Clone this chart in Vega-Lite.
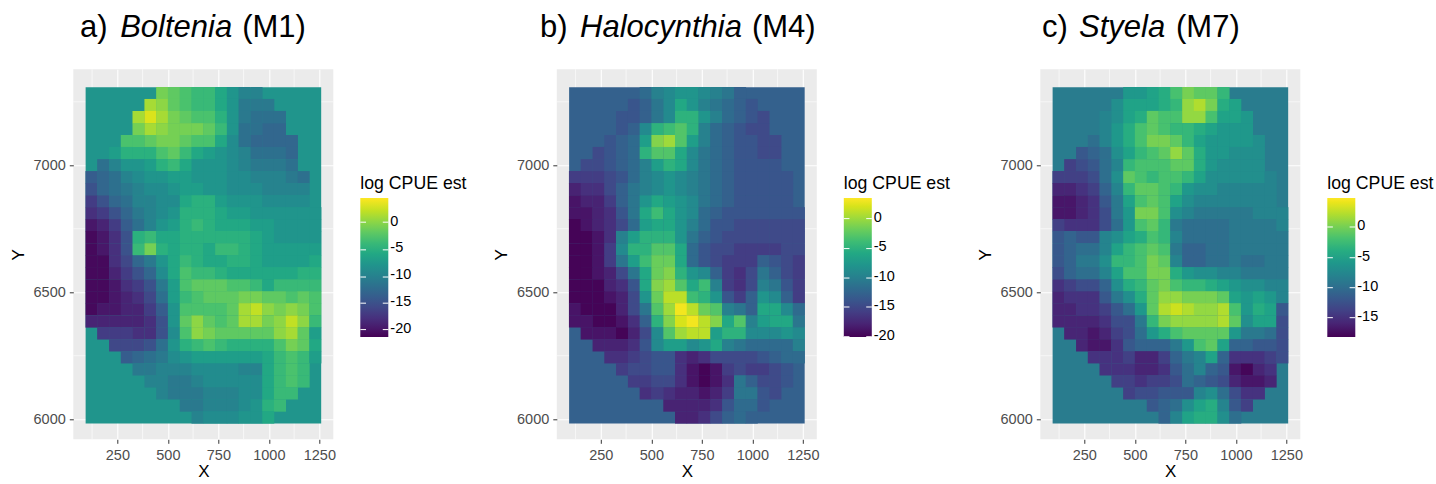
{"$schema":"https://vega.github.io/schema/vega-lite/v6.json","padding":{"left":8.3,"top":11.3,"right":0,"bottom":0},"background":"white","bounds":"flush","spacing":223.5,"resolve":{"scale":{"color":"independent"},"legend":{"color":"independent"}},"config":{"font":"Liberation Sans","view":{"fill":"#EBEBEB","stroke":null},"axis":{"domain":false,"grid":true,"gridColor":"white","gridWidth":1.1,"tickColor":"#333333","tickSize":4,"labelColor":"#4D4D4D","labelFontSize":14.5,"labelFont":"Liberation Sans","titleFont":"Liberation Sans","titleFontSize":17,"titleFontWeight":"normal","titleColor":"black"},"legend":{"orient":"none","legendX":287,"legendY":106,"titleFont":"Liberation Sans","titleFontSize":17.7,"titleFontWeight":"normal","titleColor":"black","titlePadding":5,"labelFont":"Liberation Sans","labelFontSize":14.5,"labelColor":"black","labelOffset":14,"gradientLength":139,"gradientThickness":28,"gradientStrokeWidth":0}},"datasets":{"gx":[{"v":125},{"v":375},{"v":625},{"v":875},{"v":1125}],"gy":[{"v":6250},{"v":6750},{"v":7250}],
"ta":[{"t":"a)","x":65,"y":7505},{"t":"(M1)","x":868,"y":7505}],"tai":[{"t":"Boltenia","x":264,"y":7505}],
"tb":[{"t":"b)","x":-51,"y":7505},{"t":"(M4)","x":998,"y":7505}],"tbi":[{"t":"Halocynthia","x":147,"y":7505}],
"tc":[{"t":"c)","x":40,"y":7505},{"t":"(M7)","x":704,"y":7505}],"tci":[{"t":"Styela","x":224,"y":7505}],
"bga":[{"x":93,"x2":1259,"y":5983,"y2":7307,"v":-8}],"bgb":[{"x":93,"x2":1259,"y":5983,"y2":7307,"v":-13}],"bgc":[{"x":93,"x2":1259,"y":5983,"y2":7307,"v":-8.8}],
"lt":[{"x":-5727,"x2":-5699,"y":6776},{"x":-5616,"x2":-5588,"y":6776},{"x":-5727,"x2":-5699,"y":6667},{"x":-5616,"x2":-5588,"y":6667},{"x":-5727,"x2":-5699,"y":6560},{"x":-5616,"x2":-5588,"y":6560},{"x":-5727,"x2":-5699,"y":6457},{"x":-5616,"x2":-5588,"y":6457},{"x":-5727,"x2":-5699,"y":6353},{"x":-5616,"x2":-5588,"y":6353},{"x":-3334,"x2":-3306,"y":6790},{"x":-3223,"x2":-3195,"y":6790},{"x":-3334,"x2":-3306,"y":6672},{"x":-3223,"x2":-3195,"y":6672},{"x":-3334,"x2":-3306,"y":6556},{"x":-3223,"x2":-3195,"y":6556},{"x":-3334,"x2":-3306,"y":6442},{"x":-3223,"x2":-3195,"y":6442},{"x":-3334,"x2":-3306,"y":6325},{"x":-3223,"x2":-3195,"y":6325},{"x":-941,"x2":-913,"y":6757},{"x":-830,"x2":-802,"y":6757},{"x":-941,"x2":-913,"y":6636},{"x":-830,"x2":-802,"y":6636},{"x":-941,"x2":-913,"y":6518},{"x":-830,"x2":-802,"y":6518},{"x":-941,"x2":-913,"y":6400},{"x":-830,"x2":-802,"y":6400}],
"a":[
{"x":472,"y":7284,"v":-1},{"x":530,"y":7284,"v":-2},{"x":589,"y":7284,"v":-3},{"x":647,"y":7284,"v":-4},{"x":705,"y":7284,"v":-4},{"x":764,"y":7284,"v":-6},{"x":822,"y":7284,"v":-8},{"x":880,"y":7284,"v":-10},{"x":939,"y":7284,"v":-10},
{"x":414,"y":7237,"v":1},{"x":472,"y":7237,"v":0},{"x":530,"y":7237,"v":-2},{"x":589,"y":7237,"v":-3},{"x":647,"y":7237,"v":-4},{"x":705,"y":7237,"v":-4},{"x":764,"y":7237,"v":-6},{"x":822,"y":7237,"v":-8},{"x":880,"y":7237,"v":-11},{"x":939,"y":7237,"v":-11},{"x":997,"y":7237,"v":-11},
{"x":355,"y":7190,"v":1},{"x":414,"y":7190,"v":3},{"x":472,"y":7190,"v":1},{"x":530,"y":7190,"v":-1},{"x":589,"y":7190,"v":-2},{"x":647,"y":7190,"v":-3},{"x":705,"y":7190,"v":-3},{"x":764,"y":7190,"v":-5},{"x":822,"y":7190,"v":-8},{"x":880,"y":7190,"v":-11},{"x":939,"y":7190,"v":-12},{"x":997,"y":7190,"v":-12},{"x":1055,"y":7190,"v":-12},
{"x":355,"y":7142,"v":-1},{"x":414,"y":7142,"v":1},{"x":472,"y":7142,"v":0},{"x":530,"y":7142,"v":-1},{"x":589,"y":7142,"v":-1},{"x":647,"y":7142,"v":-1},{"x":705,"y":7142,"v":-2},{"x":764,"y":7142,"v":-4},{"x":822,"y":7142,"v":-8},{"x":880,"y":7142,"v":-12},{"x":939,"y":7142,"v":-12},{"x":997,"y":7142,"v":-13},{"x":1055,"y":7142,"v":-13},
{"x":297,"y":7095,"v":-3},{"x":355,"y":7095,"v":-3},{"x":414,"y":7095,"v":-2},{"x":472,"y":7095,"v":-1},{"x":530,"y":7095,"v":-1},{"x":589,"y":7095,"v":-2},{"x":647,"y":7095,"v":-3},{"x":705,"y":7095,"v":-3},{"x":764,"y":7095,"v":-6},{"x":822,"y":7095,"v":-9},{"x":880,"y":7095,"v":-12},{"x":939,"y":7095,"v":-13},{"x":997,"y":7095,"v":-13},{"x":1055,"y":7095,"v":-13},{"x":1114,"y":7095,"v":-13},
{"x":239,"y":7048,"v":-7},{"x":297,"y":7048,"v":-5},{"x":355,"y":7048,"v":-5},{"x":414,"y":7048,"v":-5},{"x":472,"y":7048,"v":-3},{"x":530,"y":7048,"v":-2},{"x":589,"y":7048,"v":-4},{"x":647,"y":7048,"v":-6},{"x":705,"y":7048,"v":-7},{"x":764,"y":7048,"v":-8},{"x":822,"y":7048,"v":-9},{"x":880,"y":7048,"v":-10},{"x":939,"y":7048,"v":-12},{"x":997,"y":7048,"v":-12},{"x":1055,"y":7048,"v":-12},{"x":1114,"y":7048,"v":-13},
{"x":180,"y":7000,"v":-12},{"x":239,"y":7000,"v":-10},{"x":297,"y":7000,"v":-8},{"x":355,"y":7000,"v":-8},{"x":414,"y":7000,"v":-7},{"x":472,"y":7000,"v":-5},{"x":530,"y":7000,"v":-4},{"x":589,"y":7000,"v":-6},{"x":647,"y":7000,"v":-8},{"x":705,"y":7000,"v":-8},{"x":764,"y":7000,"v":-8},{"x":822,"y":7000,"v":-9},{"x":880,"y":7000,"v":-10},{"x":939,"y":7000,"v":-11},{"x":997,"y":7000,"v":-11},{"x":1055,"y":7000,"v":-11},{"x":1114,"y":7000,"v":-12},
{"x":122,"y":6953,"v":-14},{"x":180,"y":6953,"v":-13},{"x":239,"y":6953,"v":-12},{"x":297,"y":6953,"v":-10},{"x":355,"y":6953,"v":-9},{"x":414,"y":6953,"v":-8},{"x":472,"y":6953,"v":-8},{"x":530,"y":6953,"v":-7},{"x":589,"y":6953,"v":-7},{"x":647,"y":6953,"v":-8},{"x":705,"y":6953,"v":-8},{"x":764,"y":6953,"v":-8},{"x":822,"y":6953,"v":-9},{"x":880,"y":6953,"v":-9},{"x":939,"y":6953,"v":-10},{"x":997,"y":6953,"v":-10},{"x":1055,"y":6953,"v":-10},{"x":1114,"y":6953,"v":-11},{"x":1172,"y":6953,"v":-12},
{"x":122,"y":6906,"v":-15},{"x":180,"y":6906,"v":-13},{"x":239,"y":6906,"v":-12},{"x":297,"y":6906,"v":-11},{"x":355,"y":6906,"v":-10},{"x":414,"y":6906,"v":-9},{"x":472,"y":6906,"v":-9},{"x":530,"y":6906,"v":-8},{"x":589,"y":6906,"v":-7},{"x":647,"y":6906,"v":-7},{"x":705,"y":6906,"v":-8},{"x":764,"y":6906,"v":-8},{"x":822,"y":6906,"v":-9},{"x":880,"y":6906,"v":-9},{"x":939,"y":6906,"v":-9},{"x":997,"y":6906,"v":-10},{"x":1055,"y":6906,"v":-10},{"x":1114,"y":6906,"v":-10},{"x":1172,"y":6906,"v":-10},
{"x":122,"y":6858,"v":-17},{"x":180,"y":6858,"v":-15},{"x":239,"y":6858,"v":-13},{"x":297,"y":6858,"v":-12},{"x":355,"y":6858,"v":-10},{"x":414,"y":6858,"v":-10},{"x":472,"y":6858,"v":-9},{"x":530,"y":6858,"v":-9},{"x":589,"y":6858,"v":-6},{"x":647,"y":6858,"v":-5},{"x":705,"y":6858,"v":-5},{"x":764,"y":6858,"v":-7},{"x":822,"y":6858,"v":-8},{"x":880,"y":6858,"v":-8},{"x":939,"y":6858,"v":-8},{"x":997,"y":6858,"v":-9},{"x":1055,"y":6858,"v":-9},{"x":1114,"y":6858,"v":-9},{"x":1172,"y":6858,"v":-9},
{"x":122,"y":6811,"v":-18},{"x":180,"y":6811,"v":-17},{"x":239,"y":6811,"v":-15},{"x":297,"y":6811,"v":-13},{"x":355,"y":6811,"v":-11},{"x":414,"y":6811,"v":-10},{"x":472,"y":6811,"v":-9},{"x":530,"y":6811,"v":-8},{"x":589,"y":6811,"v":-5},{"x":647,"y":6811,"v":-5},{"x":705,"y":6811,"v":-5},{"x":764,"y":6811,"v":-6},{"x":822,"y":6811,"v":-7},{"x":880,"y":6811,"v":-7},{"x":939,"y":6811,"v":-8},{"x":997,"y":6811,"v":-8},{"x":1055,"y":6811,"v":-8},{"x":1114,"y":6811,"v":-8},{"x":1172,"y":6811,"v":-8},{"x":1230,"y":6811,"v":-8},
{"x":122,"y":6764,"v":-20},{"x":180,"y":6764,"v":-19},{"x":239,"y":6764,"v":-17},{"x":297,"y":6764,"v":-14},{"x":355,"y":6764,"v":-12},{"x":414,"y":6764,"v":-10},{"x":472,"y":6764,"v":-8},{"x":530,"y":6764,"v":-7},{"x":589,"y":6764,"v":-5},{"x":647,"y":6764,"v":-4},{"x":705,"y":6764,"v":-5},{"x":764,"y":6764,"v":-6},{"x":822,"y":6764,"v":-6},{"x":880,"y":6764,"v":-6},{"x":939,"y":6764,"v":-7},{"x":997,"y":6764,"v":-7},{"x":1055,"y":6764,"v":-8},{"x":1114,"y":6764,"v":-8},{"x":1172,"y":6764,"v":-8},{"x":1230,"y":6764,"v":-8},
{"x":122,"y":6717,"v":-21},{"x":180,"y":6717,"v":-20},{"x":239,"y":6717,"v":-18},{"x":297,"y":6717,"v":-15},{"x":355,"y":6717,"v":-5},{"x":414,"y":6717,"v":-4},{"x":472,"y":6717,"v":-6},{"x":530,"y":6717,"v":-6},{"x":589,"y":6717,"v":-5},{"x":647,"y":6717,"v":-5},{"x":705,"y":6717,"v":-5},{"x":764,"y":6717,"v":-5},{"x":822,"y":6717,"v":-5},{"x":880,"y":6717,"v":-5},{"x":939,"y":6717,"v":-6},{"x":997,"y":6717,"v":-7},{"x":1055,"y":6717,"v":-8},{"x":1114,"y":6717,"v":-8},{"x":1172,"y":6717,"v":-8},{"x":1230,"y":6717,"v":-8},
{"x":122,"y":6669,"v":-21},{"x":180,"y":6669,"v":-20},{"x":239,"y":6669,"v":-18},{"x":297,"y":6669,"v":-15},{"x":355,"y":6669,"v":-4},{"x":414,"y":6669,"v":-1},{"x":472,"y":6669,"v":-5},{"x":530,"y":6669,"v":-6},{"x":589,"y":6669,"v":-5},{"x":647,"y":6669,"v":-5},{"x":705,"y":6669,"v":-6},{"x":764,"y":6669,"v":-4},{"x":822,"y":6669,"v":-4},{"x":880,"y":6669,"v":-5},{"x":939,"y":6669,"v":-6},{"x":997,"y":6669,"v":-7},{"x":1055,"y":6669,"v":-7},{"x":1114,"y":6669,"v":-7},{"x":1172,"y":6669,"v":-7},{"x":1230,"y":6669,"v":-7},
{"x":122,"y":6622,"v":-21},{"x":180,"y":6622,"v":-21},{"x":239,"y":6622,"v":-18},{"x":297,"y":6622,"v":-16},{"x":355,"y":6622,"v":-13},{"x":414,"y":6622,"v":-11},{"x":472,"y":6622,"v":-8},{"x":530,"y":6622,"v":-6},{"x":589,"y":6622,"v":-4},{"x":647,"y":6622,"v":-5},{"x":705,"y":6622,"v":-6},{"x":764,"y":6622,"v":-6},{"x":822,"y":6622,"v":-5},{"x":880,"y":6622,"v":-5},{"x":939,"y":6622,"v":-6},{"x":997,"y":6622,"v":-7},{"x":1055,"y":6622,"v":-7},{"x":1114,"y":6622,"v":-7},{"x":1172,"y":6622,"v":-7},{"x":1230,"y":6622,"v":-6},
{"x":122,"y":6575,"v":-21},{"x":180,"y":6575,"v":-21},{"x":239,"y":6575,"v":-19},{"x":297,"y":6575,"v":-17},{"x":355,"y":6575,"v":-15},{"x":414,"y":6575,"v":-13},{"x":472,"y":6575,"v":-9},{"x":530,"y":6575,"v":-6},{"x":589,"y":6575,"v":-3},{"x":647,"y":6575,"v":-4},{"x":705,"y":6575,"v":-4},{"x":764,"y":6575,"v":-5},{"x":822,"y":6575,"v":-6},{"x":880,"y":6575,"v":-6},{"x":939,"y":6575,"v":-6},{"x":997,"y":6575,"v":-6},{"x":1055,"y":6575,"v":-6},{"x":1114,"y":6575,"v":-6},{"x":1172,"y":6575,"v":-5},{"x":1230,"y":6575,"v":-5},
{"x":122,"y":6527,"v":-21},{"x":180,"y":6527,"v":-21},{"x":239,"y":6527,"v":-20},{"x":297,"y":6527,"v":-18},{"x":355,"y":6527,"v":-17},{"x":414,"y":6527,"v":-15},{"x":472,"y":6527,"v":-11},{"x":530,"y":6527,"v":-7},{"x":589,"y":6527,"v":-3},{"x":647,"y":6527,"v":-2},{"x":705,"y":6527,"v":-2},{"x":764,"y":6527,"v":-2},{"x":822,"y":6527,"v":-3},{"x":880,"y":6527,"v":-3},{"x":939,"y":6527,"v":-4},{"x":997,"y":6527,"v":-6},{"x":1055,"y":6527,"v":-4},{"x":1114,"y":6527,"v":-4},{"x":1172,"y":6527,"v":-4},{"x":1230,"y":6527,"v":-4},
{"x":122,"y":6480,"v":-21},{"x":180,"y":6480,"v":-21},{"x":239,"y":6480,"v":-20},{"x":297,"y":6480,"v":-19},{"x":355,"y":6480,"v":-18},{"x":414,"y":6480,"v":-16},{"x":472,"y":6480,"v":-12},{"x":530,"y":6480,"v":-7},{"x":589,"y":6480,"v":-4},{"x":647,"y":6480,"v":-3},{"x":705,"y":6480,"v":-2},{"x":764,"y":6480,"v":-2},{"x":822,"y":6480,"v":-2},{"x":880,"y":6480,"v":-1},{"x":939,"y":6480,"v":-1},{"x":997,"y":6480,"v":-2},{"x":1055,"y":6480,"v":-2},{"x":1114,"y":6480,"v":-3},{"x":1172,"y":6480,"v":-2},{"x":1230,"y":6480,"v":-3},
{"x":122,"y":6433,"v":-21},{"x":180,"y":6433,"v":-20},{"x":239,"y":6433,"v":-20},{"x":297,"y":6433,"v":-19},{"x":355,"y":6433,"v":-19},{"x":414,"y":6433,"v":-17},{"x":472,"y":6433,"v":-14},{"x":530,"y":6433,"v":-8},{"x":589,"y":6433,"v":-3},{"x":647,"y":6433,"v":-3},{"x":705,"y":6433,"v":-3},{"x":764,"y":6433,"v":-3},{"x":822,"y":6433,"v":-2},{"x":880,"y":6433,"v":1},{"x":939,"y":6433,"v":2},{"x":997,"y":6433,"v":0},{"x":1055,"y":6433,"v":-1},{"x":1114,"y":6433,"v":0},{"x":1172,"y":6433,"v":-1},{"x":1230,"y":6433,"v":-3},
{"x":122,"y":6385,"v":-19},{"x":180,"y":6385,"v":-19},{"x":239,"y":6385,"v":-19},{"x":297,"y":6385,"v":-19},{"x":355,"y":6385,"v":-19},{"x":414,"y":6385,"v":-18},{"x":472,"y":6385,"v":-15},{"x":530,"y":6385,"v":-8},{"x":589,"y":6385,"v":-2},{"x":647,"y":6385,"v":0},{"x":705,"y":6385,"v":-2},{"x":764,"y":6385,"v":-3},{"x":822,"y":6385,"v":-2},{"x":880,"y":6385,"v":1},{"x":939,"y":6385,"v":1},{"x":997,"y":6385,"v":-1},{"x":1055,"y":6385,"v":0},{"x":1114,"y":6385,"v":2},{"x":1172,"y":6385,"v":0},{"x":1230,"y":6385,"v":-4},
{"x":180,"y":6338,"v":-17},{"x":239,"y":6338,"v":-17},{"x":297,"y":6338,"v":-17},{"x":355,"y":6338,"v":-18},{"x":414,"y":6338,"v":-18},{"x":472,"y":6338,"v":-15},{"x":530,"y":6338,"v":-9},{"x":589,"y":6338,"v":-3},{"x":647,"y":6338,"v":0},{"x":705,"y":6338,"v":-1},{"x":764,"y":6338,"v":-2},{"x":822,"y":6338,"v":-2},{"x":880,"y":6338,"v":-2},{"x":939,"y":6338,"v":-2},{"x":997,"y":6338,"v":-2},{"x":1055,"y":6338,"v":0},{"x":1114,"y":6338,"v":1},{"x":1172,"y":6338,"v":-2},{"x":1230,"y":6338,"v":-7},
{"x":239,"y":6291,"v":-16},{"x":297,"y":6291,"v":-16},{"x":355,"y":6291,"v":-16},{"x":414,"y":6291,"v":-15},{"x":472,"y":6291,"v":-12},{"x":530,"y":6291,"v":-8},{"x":589,"y":6291,"v":-5},{"x":647,"y":6291,"v":-4},{"x":705,"y":6291,"v":-3},{"x":764,"y":6291,"v":-4},{"x":822,"y":6291,"v":-5},{"x":880,"y":6291,"v":-5},{"x":939,"y":6291,"v":-5},{"x":997,"y":6291,"v":-5},{"x":1055,"y":6291,"v":-3},{"x":1114,"y":6291,"v":-1},{"x":1172,"y":6291,"v":-2},{"x":1230,"y":6291,"v":-6},
{"x":297,"y":6244,"v":-14},{"x":355,"y":6244,"v":-13},{"x":414,"y":6244,"v":-12},{"x":472,"y":6244,"v":-11},{"x":530,"y":6244,"v":-9},{"x":589,"y":6244,"v":-8},{"x":647,"y":6244,"v":-7},{"x":705,"y":6244,"v":-7},{"x":764,"y":6244,"v":-7},{"x":822,"y":6244,"v":-7},{"x":880,"y":6244,"v":-7},{"x":939,"y":6244,"v":-7},{"x":997,"y":6244,"v":-6},{"x":1055,"y":6244,"v":-4},{"x":1114,"y":6244,"v":-3},{"x":1172,"y":6244,"v":-4},{"x":1230,"y":6244,"v":-7},
{"x":355,"y":6196,"v":-11},{"x":414,"y":6196,"v":-11},{"x":472,"y":6196,"v":-10},{"x":530,"y":6196,"v":-10},{"x":589,"y":6196,"v":-10},{"x":647,"y":6196,"v":-9},{"x":705,"y":6196,"v":-9},{"x":764,"y":6196,"v":-9},{"x":822,"y":6196,"v":-9},{"x":880,"y":6196,"v":-10},{"x":939,"y":6196,"v":-10},{"x":997,"y":6196,"v":-6},{"x":1055,"y":6196,"v":-4},{"x":1114,"y":6196,"v":-3},{"x":1172,"y":6196,"v":-4},
{"x":414,"y":6149,"v":-10},{"x":472,"y":6149,"v":-10},{"x":530,"y":6149,"v":-11},{"x":589,"y":6149,"v":-11},{"x":647,"y":6149,"v":-10},{"x":705,"y":6149,"v":-9},{"x":764,"y":6149,"v":-9},{"x":822,"y":6149,"v":-9},{"x":880,"y":6149,"v":-9},{"x":939,"y":6149,"v":-9},{"x":997,"y":6149,"v":-6},{"x":1055,"y":6149,"v":-4},{"x":1114,"y":6149,"v":-3},{"x":1172,"y":6149,"v":-4},
{"x":472,"y":6102,"v":-10},{"x":530,"y":6102,"v":-11},{"x":589,"y":6102,"v":-11},{"x":647,"y":6102,"v":-11},{"x":705,"y":6102,"v":-10},{"x":764,"y":6102,"v":-10},{"x":822,"y":6102,"v":-10},{"x":880,"y":6102,"v":-9},{"x":939,"y":6102,"v":-9},{"x":997,"y":6102,"v":-6},{"x":1055,"y":6102,"v":-4},{"x":1114,"y":6102,"v":-4},
{"x":589,"y":6054,"v":-11},{"x":647,"y":6054,"v":-11},{"x":705,"y":6054,"v":-10},{"x":764,"y":6054,"v":-10},{"x":822,"y":6054,"v":-10},{"x":880,"y":6054,"v":-9},{"x":939,"y":6054,"v":-8},{"x":997,"y":6054,"v":-5},{"x":1055,"y":6054,"v":-4},
{"x":647,"y":6007,"v":-10},{"x":705,"y":6007,"v":-9},{"x":764,"y":6007,"v":-9},{"x":822,"y":6007,"v":-9},{"x":880,"y":6007,"v":-8},{"x":939,"y":6007,"v":-8},{"x":997,"y":6007,"v":-6}],
"b":[
{"x":472,"y":7284,"v":-12},{"x":530,"y":7284,"v":-10},{"x":589,"y":7284,"v":-9},{"x":647,"y":7284,"v":-8},{"x":705,"y":7284,"v":-8},{"x":764,"y":7284,"v":-9},{"x":822,"y":7284,"v":-10},{"x":880,"y":7284,"v":-11},{"x":939,"y":7284,"v":-13},
{"x":414,"y":7237,"v":-14},{"x":472,"y":7237,"v":-13},{"x":530,"y":7237,"v":-11},{"x":589,"y":7237,"v":-9},{"x":647,"y":7237,"v":-6},{"x":705,"y":7237,"v":-8},{"x":764,"y":7237,"v":-10},{"x":822,"y":7237,"v":-11},{"x":880,"y":7237,"v":-12},{"x":939,"y":7237,"v":-13},{"x":997,"y":7237,"v":-14},
{"x":355,"y":7190,"v":-14},{"x":414,"y":7190,"v":-14},{"x":472,"y":7190,"v":-13},{"x":530,"y":7190,"v":-11},{"x":589,"y":7190,"v":-9},{"x":647,"y":7190,"v":-5},{"x":705,"y":7190,"v":-5},{"x":764,"y":7190,"v":-8},{"x":822,"y":7190,"v":-10},{"x":880,"y":7190,"v":-12},{"x":939,"y":7190,"v":-13},{"x":997,"y":7190,"v":-14},{"x":1055,"y":7190,"v":-15},
{"x":355,"y":7142,"v":-14},{"x":414,"y":7142,"v":-13},{"x":472,"y":7142,"v":-9},{"x":530,"y":7142,"v":-5},{"x":589,"y":7142,"v":-4},{"x":647,"y":7142,"v":-3},{"x":705,"y":7142,"v":-5},{"x":764,"y":7142,"v":-10},{"x":822,"y":7142,"v":-12},{"x":880,"y":7142,"v":-13},{"x":939,"y":7142,"v":-14},{"x":997,"y":7142,"v":-15},{"x":1055,"y":7142,"v":-15},
{"x":297,"y":7095,"v":-14},{"x":355,"y":7095,"v":-13},{"x":414,"y":7095,"v":-12},{"x":472,"y":7095,"v":-7},{"x":530,"y":7095,"v":-1},{"x":589,"y":7095,"v":0},{"x":647,"y":7095,"v":-3},{"x":705,"y":7095,"v":-7},{"x":764,"y":7095,"v":-10},{"x":822,"y":7095,"v":-12},{"x":880,"y":7095,"v":-13},{"x":939,"y":7095,"v":-14},{"x":997,"y":7095,"v":-14},{"x":1055,"y":7095,"v":-15},{"x":1114,"y":7095,"v":-15},
{"x":239,"y":7048,"v":-15},{"x":297,"y":7048,"v":-14},{"x":355,"y":7048,"v":-13},{"x":414,"y":7048,"v":-12},{"x":472,"y":7048,"v":-5},{"x":530,"y":7048,"v":-3},{"x":589,"y":7048,"v":-3},{"x":647,"y":7048,"v":-6},{"x":705,"y":7048,"v":-9},{"x":764,"y":7048,"v":-11},{"x":822,"y":7048,"v":-12},{"x":880,"y":7048,"v":-13},{"x":939,"y":7048,"v":-14},{"x":997,"y":7048,"v":-14},{"x":1055,"y":7048,"v":-15},{"x":1114,"y":7048,"v":-15},
{"x":180,"y":7000,"v":-15},{"x":239,"y":7000,"v":-15},{"x":297,"y":7000,"v":-14},{"x":355,"y":7000,"v":-13},{"x":414,"y":7000,"v":-12},{"x":472,"y":7000,"v":-10},{"x":530,"y":7000,"v":-7},{"x":589,"y":7000,"v":-5},{"x":647,"y":7000,"v":-6},{"x":705,"y":7000,"v":-9},{"x":764,"y":7000,"v":-11},{"x":822,"y":7000,"v":-12},{"x":880,"y":7000,"v":-13},{"x":939,"y":7000,"v":-14},{"x":997,"y":7000,"v":-14},{"x":1055,"y":7000,"v":-14},{"x":1114,"y":7000,"v":-14},
{"x":122,"y":6953,"v":-16},{"x":180,"y":6953,"v":-16},{"x":239,"y":6953,"v":-16},{"x":297,"y":6953,"v":-15},{"x":355,"y":6953,"v":-14},{"x":414,"y":6953,"v":-12},{"x":472,"y":6953,"v":-10},{"x":530,"y":6953,"v":-9},{"x":589,"y":6953,"v":-8},{"x":647,"y":6953,"v":-9},{"x":705,"y":6953,"v":-10},{"x":764,"y":6953,"v":-11},{"x":822,"y":6953,"v":-12},{"x":880,"y":6953,"v":-13},{"x":939,"y":6953,"v":-14},{"x":997,"y":6953,"v":-14},{"x":1055,"y":6953,"v":-14},{"x":1114,"y":6953,"v":-14},{"x":1172,"y":6953,"v":-14},
{"x":122,"y":6906,"v":-18},{"x":180,"y":6906,"v":-17},{"x":239,"y":6906,"v":-17},{"x":297,"y":6906,"v":-15},{"x":355,"y":6906,"v":-13},{"x":414,"y":6906,"v":-11},{"x":472,"y":6906,"v":-10},{"x":530,"y":6906,"v":-9},{"x":589,"y":6906,"v":-8},{"x":647,"y":6906,"v":-9},{"x":705,"y":6906,"v":-10},{"x":764,"y":6906,"v":-11},{"x":822,"y":6906,"v":-12},{"x":880,"y":6906,"v":-13},{"x":939,"y":6906,"v":-14},{"x":997,"y":6906,"v":-14},{"x":1055,"y":6906,"v":-14},{"x":1114,"y":6906,"v":-14},{"x":1172,"y":6906,"v":-14},
{"x":122,"y":6858,"v":-19},{"x":180,"y":6858,"v":-18},{"x":239,"y":6858,"v":-18},{"x":297,"y":6858,"v":-16},{"x":355,"y":6858,"v":-13},{"x":414,"y":6858,"v":-11},{"x":472,"y":6858,"v":-8},{"x":530,"y":6858,"v":-6},{"x":589,"y":6858,"v":-7},{"x":647,"y":6858,"v":-8},{"x":705,"y":6858,"v":-9},{"x":764,"y":6858,"v":-11},{"x":822,"y":6858,"v":-12},{"x":880,"y":6858,"v":-13},{"x":939,"y":6858,"v":-14},{"x":997,"y":6858,"v":-14},{"x":1055,"y":6858,"v":-14},{"x":1114,"y":6858,"v":-14},{"x":1172,"y":6858,"v":-14},
{"x":122,"y":6811,"v":-19},{"x":180,"y":6811,"v":-19},{"x":239,"y":6811,"v":-18},{"x":297,"y":6811,"v":-17},{"x":355,"y":6811,"v":-14},{"x":414,"y":6811,"v":-11},{"x":472,"y":6811,"v":-6},{"x":530,"y":6811,"v":-4},{"x":589,"y":6811,"v":-6},{"x":647,"y":6811,"v":-8},{"x":705,"y":6811,"v":-9},{"x":764,"y":6811,"v":-12},{"x":822,"y":6811,"v":-13},{"x":880,"y":6811,"v":-14},{"x":939,"y":6811,"v":-14},{"x":997,"y":6811,"v":-14},{"x":1055,"y":6811,"v":-14},{"x":1114,"y":6811,"v":-14},{"x":1172,"y":6811,"v":-14},{"x":1230,"y":6811,"v":-14},
{"x":122,"y":6764,"v":-20},{"x":180,"y":6764,"v":-19},{"x":239,"y":6764,"v":-18},{"x":297,"y":6764,"v":-17},{"x":355,"y":6764,"v":-15},{"x":414,"y":6764,"v":-12},{"x":472,"y":6764,"v":-7},{"x":530,"y":6764,"v":-6},{"x":589,"y":6764,"v":-6},{"x":647,"y":6764,"v":-8},{"x":705,"y":6764,"v":-10},{"x":764,"y":6764,"v":-12},{"x":822,"y":6764,"v":-14},{"x":880,"y":6764,"v":-14},{"x":939,"y":6764,"v":-15},{"x":997,"y":6764,"v":-15},{"x":1055,"y":6764,"v":-15},{"x":1114,"y":6764,"v":-15},{"x":1172,"y":6764,"v":-15},{"x":1230,"y":6764,"v":-15},
{"x":122,"y":6717,"v":-20},{"x":180,"y":6717,"v":-20},{"x":239,"y":6717,"v":-19},{"x":297,"y":6717,"v":-17},{"x":355,"y":6717,"v":-10},{"x":414,"y":6717,"v":-7},{"x":472,"y":6717,"v":-5},{"x":530,"y":6717,"v":-5},{"x":589,"y":6717,"v":-5},{"x":647,"y":6717,"v":-8},{"x":705,"y":6717,"v":-11},{"x":764,"y":6717,"v":-13},{"x":822,"y":6717,"v":-14},{"x":880,"y":6717,"v":-15},{"x":939,"y":6717,"v":-15},{"x":997,"y":6717,"v":-15},{"x":1055,"y":6717,"v":-15},{"x":1114,"y":6717,"v":-15},{"x":1172,"y":6717,"v":-15},{"x":1230,"y":6717,"v":-15},
{"x":122,"y":6669,"v":-20},{"x":180,"y":6669,"v":-20},{"x":239,"y":6669,"v":-19},{"x":297,"y":6669,"v":-16},{"x":355,"y":6669,"v":-9},{"x":414,"y":6669,"v":-5},{"x":472,"y":6669,"v":-5},{"x":530,"y":6669,"v":-3},{"x":589,"y":6669,"v":-3},{"x":647,"y":6669,"v":-6},{"x":705,"y":6669,"v":-12},{"x":764,"y":6669,"v":-14},{"x":822,"y":6669,"v":-15},{"x":880,"y":6669,"v":-15},{"x":939,"y":6669,"v":-16},{"x":997,"y":6669,"v":-16},{"x":1055,"y":6669,"v":-16},{"x":1114,"y":6669,"v":-16},{"x":1172,"y":6669,"v":-15},{"x":1230,"y":6669,"v":-15},
{"x":122,"y":6622,"v":-20},{"x":180,"y":6622,"v":-20},{"x":239,"y":6622,"v":-19},{"x":297,"y":6622,"v":-16},{"x":355,"y":6622,"v":-11},{"x":414,"y":6622,"v":-7},{"x":472,"y":6622,"v":-4},{"x":530,"y":6622,"v":-2},{"x":589,"y":6622,"v":-2},{"x":647,"y":6622,"v":-6},{"x":705,"y":6622,"v":-12},{"x":764,"y":6622,"v":-14},{"x":822,"y":6622,"v":-15},{"x":880,"y":6622,"v":-16},{"x":939,"y":6622,"v":-16},{"x":997,"y":6622,"v":-16},{"x":1055,"y":6622,"v":-13},{"x":1114,"y":6622,"v":-14},{"x":1172,"y":6622,"v":-15},{"x":1230,"y":6622,"v":-16},
{"x":122,"y":6575,"v":-20},{"x":180,"y":6575,"v":-20},{"x":239,"y":6575,"v":-19},{"x":297,"y":6575,"v":-18},{"x":355,"y":6575,"v":-15},{"x":414,"y":6575,"v":-11},{"x":472,"y":6575,"v":-6},{"x":530,"y":6575,"v":-2},{"x":589,"y":6575,"v":-1},{"x":647,"y":6575,"v":-5},{"x":705,"y":6575,"v":-8},{"x":764,"y":6575,"v":-9},{"x":822,"y":6575,"v":-13},{"x":880,"y":6575,"v":-16},{"x":939,"y":6575,"v":-17},{"x":997,"y":6575,"v":-15},{"x":1055,"y":6575,"v":-11},{"x":1114,"y":6575,"v":-13},{"x":1172,"y":6575,"v":-15},{"x":1230,"y":6575,"v":-16},
{"x":122,"y":6527,"v":-20},{"x":180,"y":6527,"v":-20},{"x":239,"y":6527,"v":-20},{"x":297,"y":6527,"v":-18},{"x":355,"y":6527,"v":-17},{"x":414,"y":6527,"v":-14},{"x":472,"y":6527,"v":-6},{"x":530,"y":6527,"v":-1},{"x":589,"y":6527,"v":0},{"x":647,"y":6527,"v":-3},{"x":705,"y":6527,"v":-6},{"x":764,"y":6527,"v":-4},{"x":822,"y":6527,"v":-10},{"x":880,"y":6527,"v":-16},{"x":939,"y":6527,"v":-17},{"x":997,"y":6527,"v":-15},{"x":1055,"y":6527,"v":-10},{"x":1114,"y":6527,"v":-11},{"x":1172,"y":6527,"v":-14},{"x":1230,"y":6527,"v":-16},
{"x":122,"y":6480,"v":-20},{"x":180,"y":6480,"v":-20},{"x":239,"y":6480,"v":-20},{"x":297,"y":6480,"v":-19},{"x":355,"y":6480,"v":-18},{"x":414,"y":6480,"v":-15},{"x":472,"y":6480,"v":-8},{"x":530,"y":6480,"v":-2},{"x":589,"y":6480,"v":1},{"x":647,"y":6480,"v":1},{"x":705,"y":6480,"v":-4},{"x":764,"y":6480,"v":-5},{"x":822,"y":6480,"v":-8},{"x":880,"y":6480,"v":-14},{"x":939,"y":6480,"v":-16},{"x":997,"y":6480,"v":-13},{"x":1055,"y":6480,"v":-8},{"x":1114,"y":6480,"v":-9},{"x":1172,"y":6480,"v":-13},{"x":1230,"y":6480,"v":-16},
{"x":122,"y":6433,"v":-19},{"x":180,"y":6433,"v":-20},{"x":239,"y":6433,"v":-20},{"x":297,"y":6433,"v":-20},{"x":355,"y":6433,"v":-18},{"x":414,"y":6433,"v":-15},{"x":472,"y":6433,"v":-11},{"x":530,"y":6433,"v":-3},{"x":589,"y":6433,"v":0},{"x":647,"y":6433,"v":3},{"x":705,"y":6433,"v":1},{"x":764,"y":6433,"v":-2},{"x":822,"y":6433,"v":-3},{"x":880,"y":6433,"v":-10},{"x":939,"y":6433,"v":-11},{"x":997,"y":6433,"v":-13},{"x":1055,"y":6433,"v":-6},{"x":1114,"y":6433,"v":-6},{"x":1172,"y":6433,"v":-9},{"x":1230,"y":6433,"v":-12},
{"x":122,"y":6385,"v":-19},{"x":180,"y":6385,"v":-19},{"x":239,"y":6385,"v":-20},{"x":297,"y":6385,"v":-20},{"x":355,"y":6385,"v":-19},{"x":414,"y":6385,"v":-17},{"x":472,"y":6385,"v":-13},{"x":530,"y":6385,"v":-5},{"x":589,"y":6385,"v":-1},{"x":647,"y":6385,"v":2},{"x":705,"y":6385,"v":3},{"x":764,"y":6385,"v":1},{"x":822,"y":6385,"v":-1},{"x":880,"y":6385,"v":-6},{"x":939,"y":6385,"v":-3},{"x":997,"y":6385,"v":-10},{"x":1055,"y":6385,"v":-7},{"x":1114,"y":6385,"v":-6},{"x":1172,"y":6385,"v":-6},{"x":1230,"y":6385,"v":-11},
{"x":180,"y":6338,"v":-19},{"x":239,"y":6338,"v":-19},{"x":297,"y":6338,"v":-19},{"x":355,"y":6338,"v":-20},{"x":414,"y":6338,"v":-18},{"x":472,"y":6338,"v":-15},{"x":530,"y":6338,"v":-9},{"x":589,"y":6338,"v":-3},{"x":647,"y":6338,"v":0},{"x":705,"y":6338,"v":1},{"x":764,"y":6338,"v":1},{"x":822,"y":6338,"v":-7},{"x":880,"y":6338,"v":-5},{"x":939,"y":6338,"v":-5},{"x":997,"y":6338,"v":-9},{"x":1055,"y":6338,"v":-9},{"x":1114,"y":6338,"v":-9},{"x":1172,"y":6338,"v":-8},{"x":1230,"y":6338,"v":-9},
{"x":239,"y":6291,"v":-18},{"x":297,"y":6291,"v":-18},{"x":355,"y":6291,"v":-18},{"x":414,"y":6291,"v":-17},{"x":472,"y":6291,"v":-14},{"x":530,"y":6291,"v":-9},{"x":589,"y":6291,"v":-7},{"x":647,"y":6291,"v":-7},{"x":705,"y":6291,"v":-9},{"x":764,"y":6291,"v":-8},{"x":822,"y":6291,"v":-6},{"x":880,"y":6291,"v":-10},{"x":939,"y":6291,"v":-11},{"x":997,"y":6291,"v":-12},{"x":1055,"y":6291,"v":-12},{"x":1114,"y":6291,"v":-12},{"x":1172,"y":6291,"v":-12},{"x":1230,"y":6291,"v":-10},
{"x":297,"y":6244,"v":-17},{"x":355,"y":6244,"v":-17},{"x":414,"y":6244,"v":-16},{"x":472,"y":6244,"v":-15},{"x":530,"y":6244,"v":-14},{"x":589,"y":6244,"v":-14},{"x":647,"y":6244,"v":-17},{"x":705,"y":6244,"v":-18},{"x":764,"y":6244,"v":-17},{"x":822,"y":6244,"v":-15},{"x":880,"y":6244,"v":-15},{"x":939,"y":6244,"v":-15},{"x":997,"y":6244,"v":-15},{"x":1055,"y":6244,"v":-14},{"x":1114,"y":6244,"v":-13},{"x":1172,"y":6244,"v":-12},{"x":1230,"y":6244,"v":-12},
{"x":355,"y":6196,"v":-16},{"x":414,"y":6196,"v":-15},{"x":472,"y":6196,"v":-15},{"x":530,"y":6196,"v":-14},{"x":589,"y":6196,"v":-14},{"x":647,"y":6196,"v":-17},{"x":705,"y":6196,"v":-19},{"x":764,"y":6196,"v":-20},{"x":822,"y":6196,"v":-19},{"x":880,"y":6196,"v":-16},{"x":939,"y":6196,"v":-15},{"x":997,"y":6196,"v":-16},{"x":1055,"y":6196,"v":-16},{"x":1114,"y":6196,"v":-15},{"x":1172,"y":6196,"v":-14},
{"x":414,"y":6149,"v":-16},{"x":472,"y":6149,"v":-16},{"x":530,"y":6149,"v":-15},{"x":589,"y":6149,"v":-15},{"x":647,"y":6149,"v":-17},{"x":705,"y":6149,"v":-19},{"x":764,"y":6149,"v":-20},{"x":822,"y":6149,"v":-19},{"x":880,"y":6149,"v":-17},{"x":939,"y":6149,"v":-11},{"x":997,"y":6149,"v":-13},{"x":1055,"y":6149,"v":-15},{"x":1114,"y":6149,"v":-15},{"x":1172,"y":6149,"v":-14},
{"x":472,"y":6102,"v":-17},{"x":530,"y":6102,"v":-16},{"x":589,"y":6102,"v":-17},{"x":647,"y":6102,"v":-18},{"x":705,"y":6102,"v":-18},{"x":764,"y":6102,"v":-19},{"x":822,"y":6102,"v":-18},{"x":880,"y":6102,"v":-16},{"x":939,"y":6102,"v":-11},{"x":997,"y":6102,"v":-11},{"x":1055,"y":6102,"v":-14},{"x":1114,"y":6102,"v":-15},
{"x":589,"y":6054,"v":-18},{"x":647,"y":6054,"v":-18},{"x":705,"y":6054,"v":-18},{"x":764,"y":6054,"v":-18},{"x":822,"y":6054,"v":-17},{"x":880,"y":6054,"v":-14},{"x":939,"y":6054,"v":-12},{"x":997,"y":6054,"v":-12},{"x":1055,"y":6054,"v":-14},
{"x":647,"y":6007,"v":-18},{"x":705,"y":6007,"v":-18},{"x":764,"y":6007,"v":-17},{"x":822,"y":6007,"v":-15},{"x":880,"y":6007,"v":-13},{"x":939,"y":6007,"v":-12},{"x":997,"y":6007,"v":-13}],
"c":[
{"x":472,"y":7284,"v":-6},{"x":530,"y":7284,"v":-6},{"x":589,"y":7284,"v":-5},{"x":647,"y":7284,"v":-4},{"x":705,"y":7284,"v":-2},{"x":764,"y":7284,"v":0},{"x":822,"y":7284,"v":-1},{"x":880,"y":7284,"v":-1},{"x":939,"y":7284,"v":-3},
{"x":414,"y":7237,"v":-7},{"x":472,"y":7237,"v":-5},{"x":530,"y":7237,"v":-5},{"x":589,"y":7237,"v":-5},{"x":647,"y":7237,"v":-4},{"x":705,"y":7237,"v":-3},{"x":764,"y":7237,"v":1},{"x":822,"y":7237,"v":2},{"x":880,"y":7237,"v":0},{"x":939,"y":7237,"v":-4},{"x":997,"y":7237,"v":-5},
{"x":355,"y":7190,"v":-8},{"x":414,"y":7190,"v":-7},{"x":472,"y":7190,"v":-5},{"x":530,"y":7190,"v":-4},{"x":589,"y":7190,"v":-1},{"x":647,"y":7190,"v":-2},{"x":705,"y":7190,"v":-2},{"x":764,"y":7190,"v":1},{"x":822,"y":7190,"v":1},{"x":880,"y":7190,"v":-2},{"x":939,"y":7190,"v":-5},{"x":997,"y":7190,"v":-5},{"x":1055,"y":7190,"v":-6},
{"x":355,"y":7142,"v":-8},{"x":414,"y":7142,"v":-6},{"x":472,"y":7142,"v":-4},{"x":530,"y":7142,"v":-2},{"x":589,"y":7142,"v":-1},{"x":647,"y":7142,"v":-2},{"x":705,"y":7142,"v":-3},{"x":764,"y":7142,"v":-3},{"x":822,"y":7142,"v":-4},{"x":880,"y":7142,"v":-5},{"x":939,"y":7142,"v":-6},{"x":997,"y":7142,"v":-6},{"x":1055,"y":7142,"v":-6},
{"x":297,"y":7095,"v":-10},{"x":355,"y":7095,"v":-8},{"x":414,"y":7095,"v":-6},{"x":472,"y":7095,"v":-4},{"x":530,"y":7095,"v":-2},{"x":589,"y":7095,"v":0},{"x":647,"y":7095,"v":0},{"x":705,"y":7095,"v":-1},{"x":764,"y":7095,"v":-3},{"x":822,"y":7095,"v":-5},{"x":880,"y":7095,"v":-6},{"x":939,"y":7095,"v":-6},{"x":997,"y":7095,"v":-6},{"x":1055,"y":7095,"v":-6},{"x":1114,"y":7095,"v":-7},
{"x":239,"y":7048,"v":-12},{"x":297,"y":7048,"v":-11},{"x":355,"y":7048,"v":-10},{"x":414,"y":7048,"v":-7},{"x":472,"y":7048,"v":-5},{"x":530,"y":7048,"v":-3},{"x":589,"y":7048,"v":-2},{"x":647,"y":7048,"v":-1},{"x":705,"y":7048,"v":1},{"x":764,"y":7048,"v":-1},{"x":822,"y":7048,"v":-4},{"x":880,"y":7048,"v":-6},{"x":939,"y":7048,"v":-6},{"x":997,"y":7048,"v":-7},{"x":1055,"y":7048,"v":-7},{"x":1114,"y":7048,"v":-7},
{"x":180,"y":7000,"v":-14},{"x":239,"y":7000,"v":-13},{"x":297,"y":7000,"v":-12},{"x":355,"y":7000,"v":-10},{"x":414,"y":7000,"v":-8},{"x":472,"y":7000,"v":-3},{"x":530,"y":7000,"v":-2},{"x":589,"y":7000,"v":-2},{"x":647,"y":7000,"v":-2},{"x":705,"y":7000,"v":-1},{"x":764,"y":7000,"v":-1},{"x":822,"y":7000,"v":-4},{"x":880,"y":7000,"v":-6},{"x":939,"y":7000,"v":-7},{"x":997,"y":7000,"v":-7},{"x":1055,"y":7000,"v":-7},{"x":1114,"y":7000,"v":-7},
{"x":122,"y":6953,"v":-14},{"x":180,"y":6953,"v":-14},{"x":239,"y":6953,"v":-14},{"x":297,"y":6953,"v":-13},{"x":355,"y":6953,"v":-10},{"x":414,"y":6953,"v":-7},{"x":472,"y":6953,"v":-1},{"x":530,"y":6953,"v":-2},{"x":589,"y":6953,"v":-3},{"x":647,"y":6953,"v":-2},{"x":705,"y":6953,"v":-2},{"x":764,"y":6953,"v":-3},{"x":822,"y":6953,"v":-5},{"x":880,"y":6953,"v":-7},{"x":939,"y":6953,"v":-7},{"x":997,"y":6953,"v":-7},{"x":1055,"y":6953,"v":-7},{"x":1114,"y":6953,"v":-7},{"x":1172,"y":6953,"v":-8},
{"x":122,"y":6906,"v":-16},{"x":180,"y":6906,"v":-16},{"x":239,"y":6906,"v":-15},{"x":297,"y":6906,"v":-14},{"x":355,"y":6906,"v":-11},{"x":414,"y":6906,"v":-8},{"x":472,"y":6906,"v":-3},{"x":530,"y":6906,"v":-1},{"x":589,"y":6906,"v":-1},{"x":647,"y":6906,"v":-2},{"x":705,"y":6906,"v":-3},{"x":764,"y":6906,"v":-6},{"x":822,"y":6906,"v":-7},{"x":880,"y":6906,"v":-7},{"x":939,"y":6906,"v":-8},{"x":997,"y":6906,"v":-8},{"x":1055,"y":6906,"v":-8},{"x":1114,"y":6906,"v":-8},{"x":1172,"y":6906,"v":-8},
{"x":122,"y":6858,"v":-17},{"x":180,"y":6858,"v":-17},{"x":239,"y":6858,"v":-16},{"x":297,"y":6858,"v":-15},{"x":355,"y":6858,"v":-12},{"x":414,"y":6858,"v":-9},{"x":472,"y":6858,"v":-5},{"x":530,"y":6858,"v":-2},{"x":589,"y":6858,"v":-1},{"x":647,"y":6858,"v":-2},{"x":705,"y":6858,"v":-5},{"x":764,"y":6858,"v":-7},{"x":822,"y":6858,"v":-8},{"x":880,"y":6858,"v":-8},{"x":939,"y":6858,"v":-8},{"x":997,"y":6858,"v":-8},{"x":1055,"y":6858,"v":-8},{"x":1114,"y":6858,"v":-8},{"x":1172,"y":6858,"v":-8},
{"x":122,"y":6811,"v":-17},{"x":180,"y":6811,"v":-17},{"x":239,"y":6811,"v":-16},{"x":297,"y":6811,"v":-15},{"x":355,"y":6811,"v":-13},{"x":414,"y":6811,"v":-9},{"x":472,"y":6811,"v":-6},{"x":530,"y":6811,"v":0},{"x":589,"y":6811,"v":0},{"x":647,"y":6811,"v":-2},{"x":705,"y":6811,"v":-7},{"x":764,"y":6811,"v":-8},{"x":822,"y":6811,"v":-9},{"x":880,"y":6811,"v":-9},{"x":939,"y":6811,"v":-9},{"x":997,"y":6811,"v":-9},{"x":1055,"y":6811,"v":-9},{"x":1114,"y":6811,"v":-8},{"x":1172,"y":6811,"v":-8},{"x":1230,"y":6811,"v":-8},
{"x":122,"y":6764,"v":-14},{"x":180,"y":6764,"v":-15},{"x":239,"y":6764,"v":-15},{"x":297,"y":6764,"v":-15},{"x":355,"y":6764,"v":-13},{"x":414,"y":6764,"v":-10},{"x":472,"y":6764,"v":-6},{"x":530,"y":6764,"v":-2},{"x":589,"y":6764,"v":-1},{"x":647,"y":6764,"v":-3},{"x":705,"y":6764,"v":-9},{"x":764,"y":6764,"v":-10},{"x":822,"y":6764,"v":-10},{"x":880,"y":6764,"v":-10},{"x":939,"y":6764,"v":-10},{"x":997,"y":6764,"v":-9},{"x":1055,"y":6764,"v":-9},{"x":1114,"y":6764,"v":-9},{"x":1172,"y":6764,"v":-9},{"x":1230,"y":6764,"v":-8},
{"x":122,"y":6717,"v":-12},{"x":180,"y":6717,"v":-11},{"x":239,"y":6717,"v":-12},{"x":297,"y":6717,"v":-12},{"x":355,"y":6717,"v":-8},{"x":414,"y":6717,"v":-7},{"x":472,"y":6717,"v":-5},{"x":530,"y":6717,"v":-4},{"x":589,"y":6717,"v":-2},{"x":647,"y":6717,"v":-3},{"x":705,"y":6717,"v":-8},{"x":764,"y":6717,"v":-10},{"x":822,"y":6717,"v":-10},{"x":880,"y":6717,"v":-10},{"x":939,"y":6717,"v":-10},{"x":997,"y":6717,"v":-9},{"x":1055,"y":6717,"v":-9},{"x":1114,"y":6717,"v":-9},{"x":1172,"y":6717,"v":-9},{"x":1230,"y":6717,"v":-9},
{"x":122,"y":6669,"v":-12},{"x":180,"y":6669,"v":-11},{"x":239,"y":6669,"v":-10},{"x":297,"y":6669,"v":-10},{"x":355,"y":6669,"v":-8},{"x":414,"y":6669,"v":-5},{"x":472,"y":6669,"v":-3},{"x":530,"y":6669,"v":-2},{"x":589,"y":6669,"v":-1},{"x":647,"y":6669,"v":-2},{"x":705,"y":6669,"v":-9},{"x":764,"y":6669,"v":-11},{"x":822,"y":6669,"v":-11},{"x":880,"y":6669,"v":-10},{"x":939,"y":6669,"v":-10},{"x":997,"y":6669,"v":-9},{"x":1055,"y":6669,"v":-9},{"x":1114,"y":6669,"v":-9},{"x":1172,"y":6669,"v":-9},{"x":1230,"y":6669,"v":-9},
{"x":122,"y":6622,"v":-12},{"x":180,"y":6622,"v":-11},{"x":239,"y":6622,"v":-9},{"x":297,"y":6622,"v":-9},{"x":355,"y":6622,"v":-7},{"x":414,"y":6622,"v":-3},{"x":472,"y":6622,"v":-3},{"x":530,"y":6622,"v":-2},{"x":589,"y":6622,"v":0},{"x":647,"y":6622,"v":-1},{"x":705,"y":6622,"v":-8},{"x":764,"y":6622,"v":-11},{"x":822,"y":6622,"v":-11},{"x":880,"y":6622,"v":-10},{"x":939,"y":6622,"v":-10},{"x":997,"y":6622,"v":-9},{"x":1055,"y":6622,"v":-10},{"x":1114,"y":6622,"v":-10},{"x":1172,"y":6622,"v":-9},{"x":1230,"y":6622,"v":-9},
{"x":122,"y":6575,"v":-13},{"x":180,"y":6575,"v":-11},{"x":239,"y":6575,"v":-10},{"x":297,"y":6575,"v":-10},{"x":355,"y":6575,"v":-8},{"x":414,"y":6575,"v":-5},{"x":472,"y":6575,"v":-2},{"x":530,"y":6575,"v":-2},{"x":589,"y":6575,"v":0},{"x":647,"y":6575,"v":0},{"x":705,"y":6575,"v":-4},{"x":764,"y":6575,"v":-6},{"x":822,"y":6575,"v":-7},{"x":880,"y":6575,"v":-7},{"x":939,"y":6575,"v":-8},{"x":997,"y":6575,"v":-8},{"x":1055,"y":6575,"v":-9},{"x":1114,"y":6575,"v":-9},{"x":1172,"y":6575,"v":-9},{"x":1230,"y":6575,"v":-9},
{"x":122,"y":6527,"v":-15},{"x":180,"y":6527,"v":-14},{"x":239,"y":6527,"v":-13},{"x":297,"y":6527,"v":-13},{"x":355,"y":6527,"v":-11},{"x":414,"y":6527,"v":-7},{"x":472,"y":6527,"v":-4},{"x":530,"y":6527,"v":-3},{"x":589,"y":6527,"v":-1},{"x":647,"y":6527,"v":0},{"x":705,"y":6527,"v":-2},{"x":764,"y":6527,"v":-3},{"x":822,"y":6527,"v":-3},{"x":880,"y":6527,"v":-4},{"x":939,"y":6527,"v":-5},{"x":997,"y":6527,"v":-6},{"x":1055,"y":6527,"v":-7},{"x":1114,"y":6527,"v":-7},{"x":1172,"y":6527,"v":-8},{"x":1230,"y":6527,"v":-8},
{"x":122,"y":6480,"v":-16},{"x":180,"y":6480,"v":-15},{"x":239,"y":6480,"v":-15},{"x":297,"y":6480,"v":-15},{"x":355,"y":6480,"v":-12},{"x":414,"y":6480,"v":-9},{"x":472,"y":6480,"v":-7},{"x":530,"y":6480,"v":-4},{"x":589,"y":6480,"v":-1},{"x":647,"y":6480,"v":1},{"x":705,"y":6480,"v":1},{"x":764,"y":6480,"v":0},{"x":822,"y":6480,"v":0},{"x":880,"y":6480,"v":0},{"x":939,"y":6480,"v":-1},{"x":997,"y":6480,"v":-5},{"x":1055,"y":6480,"v":-6},{"x":1114,"y":6480,"v":-5},{"x":1172,"y":6480,"v":-6},{"x":1230,"y":6480,"v":-8},
{"x":122,"y":6433,"v":-16},{"x":180,"y":6433,"v":-16},{"x":239,"y":6433,"v":-15},{"x":297,"y":6433,"v":-15},{"x":355,"y":6433,"v":-14},{"x":414,"y":6433,"v":-12},{"x":472,"y":6433,"v":-10},{"x":530,"y":6433,"v":-6},{"x":589,"y":6433,"v":-1},{"x":647,"y":6433,"v":2},{"x":705,"y":6433,"v":3},{"x":764,"y":6433,"v":2},{"x":822,"y":6433,"v":1},{"x":880,"y":6433,"v":1},{"x":939,"y":6433,"v":2},{"x":997,"y":6433,"v":-2},{"x":1055,"y":6433,"v":-6},{"x":1114,"y":6433,"v":-4},{"x":1172,"y":6433,"v":-5},{"x":1230,"y":6433,"v":-12},
{"x":122,"y":6385,"v":-16},{"x":180,"y":6385,"v":-16},{"x":239,"y":6385,"v":-16},{"x":297,"y":6385,"v":-16},{"x":355,"y":6385,"v":-15},{"x":414,"y":6385,"v":-13},{"x":472,"y":6385,"v":-13},{"x":530,"y":6385,"v":-9},{"x":589,"y":6385,"v":-3},{"x":647,"y":6385,"v":0},{"x":705,"y":6385,"v":1},{"x":764,"y":6385,"v":1},{"x":822,"y":6385,"v":1},{"x":880,"y":6385,"v":1},{"x":939,"y":6385,"v":2},{"x":997,"y":6385,"v":-1},{"x":1055,"y":6385,"v":-7},{"x":1114,"y":6385,"v":-5},{"x":1172,"y":6385,"v":-5},{"x":1230,"y":6385,"v":-13},
{"x":180,"y":6338,"v":-16},{"x":239,"y":6338,"v":-16},{"x":297,"y":6338,"v":-17},{"x":355,"y":6338,"v":-16},{"x":414,"y":6338,"v":-14},{"x":472,"y":6338,"v":-13},{"x":530,"y":6338,"v":-10},{"x":589,"y":6338,"v":-6},{"x":647,"y":6338,"v":-4},{"x":705,"y":6338,"v":-2},{"x":764,"y":6338,"v":-1},{"x":822,"y":6338,"v":-1},{"x":880,"y":6338,"v":-1},{"x":939,"y":6338,"v":-1},{"x":997,"y":6338,"v":-6},{"x":1055,"y":6338,"v":-9},{"x":1114,"y":6338,"v":-9},{"x":1172,"y":6338,"v":-10},{"x":1230,"y":6338,"v":-13},
{"x":239,"y":6291,"v":-16},{"x":297,"y":6291,"v":-17},{"x":355,"y":6291,"v":-17},{"x":414,"y":6291,"v":-15},{"x":472,"y":6291,"v":-12},{"x":530,"y":6291,"v":-11},{"x":589,"y":6291,"v":-11},{"x":647,"y":6291,"v":-11},{"x":705,"y":6291,"v":-9},{"x":764,"y":6291,"v":-6},{"x":822,"y":6291,"v":-2},{"x":880,"y":6291,"v":-1},{"x":939,"y":6291,"v":-5},{"x":997,"y":6291,"v":-11},{"x":1055,"y":6291,"v":-11},{"x":1114,"y":6291,"v":-12},{"x":1172,"y":6291,"v":-12},{"x":1230,"y":6291,"v":-13},
{"x":297,"y":6244,"v":-15},{"x":355,"y":6244,"v":-15},{"x":414,"y":6244,"v":-15},{"x":472,"y":6244,"v":-14},{"x":530,"y":6244,"v":-16},{"x":589,"y":6244,"v":-16},{"x":647,"y":6244,"v":-14},{"x":705,"y":6244,"v":-11},{"x":764,"y":6244,"v":-9},{"x":822,"y":6244,"v":-8},{"x":880,"y":6244,"v":-5},{"x":939,"y":6244,"v":-11},{"x":997,"y":6244,"v":-15},{"x":1055,"y":6244,"v":-15},{"x":1114,"y":6244,"v":-15},{"x":1172,"y":6244,"v":-14},{"x":1230,"y":6244,"v":-13},
{"x":355,"y":6196,"v":-15},{"x":414,"y":6196,"v":-15},{"x":472,"y":6196,"v":-15},{"x":530,"y":6196,"v":-16},{"x":589,"y":6196,"v":-16},{"x":647,"y":6196,"v":-15},{"x":705,"y":6196,"v":-12},{"x":764,"y":6196,"v":-10},{"x":822,"y":6196,"v":-8},{"x":880,"y":6196,"v":-11},{"x":939,"y":6196,"v":-12},{"x":997,"y":6196,"v":-17},{"x":1055,"y":6196,"v":-18},{"x":1114,"y":6196,"v":-16},{"x":1172,"y":6196,"v":-15},
{"x":414,"y":6149,"v":-14},{"x":472,"y":6149,"v":-14},{"x":530,"y":6149,"v":-15},{"x":589,"y":6149,"v":-14},{"x":647,"y":6149,"v":-14},{"x":705,"y":6149,"v":-13},{"x":764,"y":6149,"v":-10},{"x":822,"y":6149,"v":-11},{"x":880,"y":6149,"v":-12},{"x":939,"y":6149,"v":-13},{"x":997,"y":6149,"v":-16},{"x":1055,"y":6149,"v":-17},{"x":1114,"y":6149,"v":-17},{"x":1172,"y":6149,"v":-16},
{"x":472,"y":6102,"v":-14},{"x":530,"y":6102,"v":-13},{"x":589,"y":6102,"v":-13},{"x":647,"y":6102,"v":-12},{"x":705,"y":6102,"v":-12},{"x":764,"y":6102,"v":-12},{"x":822,"y":6102,"v":-8},{"x":880,"y":6102,"v":-7},{"x":939,"y":6102,"v":-10},{"x":997,"y":6102,"v":-13},{"x":1055,"y":6102,"v":-15},{"x":1114,"y":6102,"v":-15},
{"x":589,"y":6054,"v":-12},{"x":647,"y":6054,"v":-11},{"x":705,"y":6054,"v":-10},{"x":764,"y":6054,"v":-7},{"x":822,"y":6054,"v":-5},{"x":880,"y":6054,"v":-4},{"x":939,"y":6054,"v":-8},{"x":997,"y":6054,"v":-12},{"x":1055,"y":6054,"v":-14},
{"x":647,"y":6007,"v":-11},{"x":705,"y":6007,"v":-8},{"x":764,"y":6007,"v":-5},{"x":822,"y":6007,"v":-4},{"x":880,"y":6007,"v":-4},{"x":939,"y":6007,"v":-7},{"x":997,"y":6007,"v":-10}]
},"hconcat":[
{"width":260,"height":370,"layer":[
{"data":{"name":"gx"},"mark":{"type":"rule","color":"white","strokeWidth":0.6},"encoding":{"x":{"field":"v","type":"quantitative","scale":{"domain":[32,1319],"nice":false,"zero":false},"axis":{"values":[250,500,750,1000,1250],"format":"d","title":"X","labelPadding":5,"titlePadding":2}}}},
{"data":{"name":"gy"},"mark":{"type":"rule","color":"white","strokeWidth":0.6},"encoding":{"y":{"field":"v","type":"quantitative","scale":{"domain":[5921,7378],"nice":false,"zero":false},"axis":{"values":[6000,6500,7000],"format":"d","title":"Y","labelPadding":4,"titlePadding":6}}}},
{"data":{"name":"bga"},"mark":"rect","encoding":{"x":{"field":"x","type":"quantitative"},"x2":{"field":"x2"},"y":{"field":"y","type":"quantitative"},"y2":{"field":"y2"},"color":{"field":"v","type":"quantitative","scale":{"scheme":"viridis","domain":[-21.5,4.4]},"legend":{"title":"log CPUE est","values":[-20,-15,-10,-5,0],"labelExpr":"''+datum.value"}}}},
{"data":{"name":"a"},"mark":{"type":"rect","width":12.1,"height":12.3},"encoding":{"x":{"field":"x","type":"quantitative"},"y":{"field":"y","type":"quantitative"},"color":{"field":"v","type":"quantitative"}}},
{"data":{"name":"ta"},"mark":{"type":"text","align":"left","baseline":"alphabetic","fontSize":31},"encoding":{"x":{"field":"x","type":"quantitative"},"y":{"field":"y","type":"quantitative"},"text":{"field":"t"}}},
{"data":{"name":"tai"},"mark":{"type":"text","align":"left","baseline":"alphabetic","fontSize":31,"fontStyle":"italic"},"encoding":{"x":{"field":"x","type":"quantitative"},"y":{"field":"y","type":"quantitative"},"text":{"field":"t"}}}]},
{"width":260,"height":370,"layer":[
{"data":{"name":"gx"},"mark":{"type":"rule","color":"white","strokeWidth":0.6},"encoding":{"x":{"field":"v","type":"quantitative","scale":{"domain":[32,1319],"nice":false,"zero":false},"axis":{"values":[250,500,750,1000,1250],"format":"d","title":"X","labelPadding":5,"titlePadding":2}}}},
{"data":{"name":"gy"},"mark":{"type":"rule","color":"white","strokeWidth":0.6},"encoding":{"y":{"field":"v","type":"quantitative","scale":{"domain":[5921,7378],"nice":false,"zero":false},"axis":{"values":[6000,6500,7000],"format":"d","title":"Y","labelPadding":4,"titlePadding":6}}}},
{"data":{"name":"bgb"},"mark":"rect","encoding":{"x":{"field":"x","type":"quantitative"},"x2":{"field":"x2"},"y":{"field":"y","type":"quantitative"},"y2":{"field":"y2"},"color":{"field":"v","type":"quantitative","scale":{"scheme":"viridis","domain":[-20.2,3.4]},"legend":{"title":"log CPUE est","values":[-20,-15,-10,-5,0],"labelExpr":"''+datum.value"}}}},
{"data":{"name":"b"},"mark":{"type":"rect","width":12.1,"height":12.3},"encoding":{"x":{"field":"x","type":"quantitative"},"y":{"field":"y","type":"quantitative"},"color":{"field":"v","type":"quantitative"}}},
{"data":{"name":"tb"},"mark":{"type":"text","align":"left","baseline":"alphabetic","fontSize":31},"encoding":{"x":{"field":"x","type":"quantitative"},"y":{"field":"y","type":"quantitative"},"text":{"field":"t"}}},
{"data":{"name":"tbi"},"mark":{"type":"text","align":"left","baseline":"alphabetic","fontSize":31,"fontStyle":"italic"},"encoding":{"x":{"field":"x","type":"quantitative"},"y":{"field":"y","type":"quantitative"},"text":{"field":"t"}}}]},
{"width":260,"height":370,"layer":[
{"data":{"name":"gx"},"mark":{"type":"rule","color":"white","strokeWidth":0.6},"encoding":{"x":{"field":"v","type":"quantitative","scale":{"domain":[32,1319],"nice":false,"zero":false},"axis":{"values":[250,500,750,1000,1250],"format":"d","title":"X","labelPadding":5,"titlePadding":2}}}},
{"data":{"name":"gy"},"mark":{"type":"rule","color":"white","strokeWidth":0.6},"encoding":{"y":{"field":"v","type":"quantitative","scale":{"domain":[5921,7378],"nice":false,"zero":false},"axis":{"values":[6000,6500,7000],"format":"d","title":"Y","labelPadding":4,"titlePadding":6}}}},
{"data":{"name":"bgc"},"mark":"rect","encoding":{"x":{"field":"x","type":"quantitative"},"x2":{"field":"x2"},"y":{"field":"y","type":"quantitative"},"y2":{"field":"y2"},"color":{"field":"v","type":"quantitative","scale":{"scheme":"viridis","domain":[-18.3,4.7]},"legend":{"title":"log CPUE est","values":[-15,-10,-5,0],"labelExpr":"''+datum.value"}}}},
{"data":{"name":"c"},"mark":{"type":"rect","width":12.1,"height":12.3},"encoding":{"x":{"field":"x","type":"quantitative"},"y":{"field":"y","type":"quantitative"},"color":{"field":"v","type":"quantitative"}}},
{"data":{"name":"tc"},"mark":{"type":"text","align":"left","baseline":"alphabetic","fontSize":31},"encoding":{"x":{"field":"x","type":"quantitative"},"y":{"field":"y","type":"quantitative"},"text":{"field":"t"}}},
{"data":{"name":"tci"},"mark":{"type":"text","align":"left","baseline":"alphabetic","fontSize":31,"fontStyle":"italic"},"encoding":{"x":{"field":"x","type":"quantitative"},"y":{"field":"y","type":"quantitative"},"text":{"field":"t"}}}]},
{"width":260,"height":370,"view":{"fill":"transparent","stroke":null},"data":{"name":"lt"},"mark":{"type":"rule","color":"white","strokeWidth":1},"encoding":{"x":{"field":"x","type":"quantitative","axis":null,"scale":{"domain":[32,1319],"nice":false,"zero":false}},"x2":{"field":"x2"},"y":{"field":"y","type":"quantitative","axis":null,"scale":{"domain":[5921,7378],"nice":false,"zero":false}}}}
]}
